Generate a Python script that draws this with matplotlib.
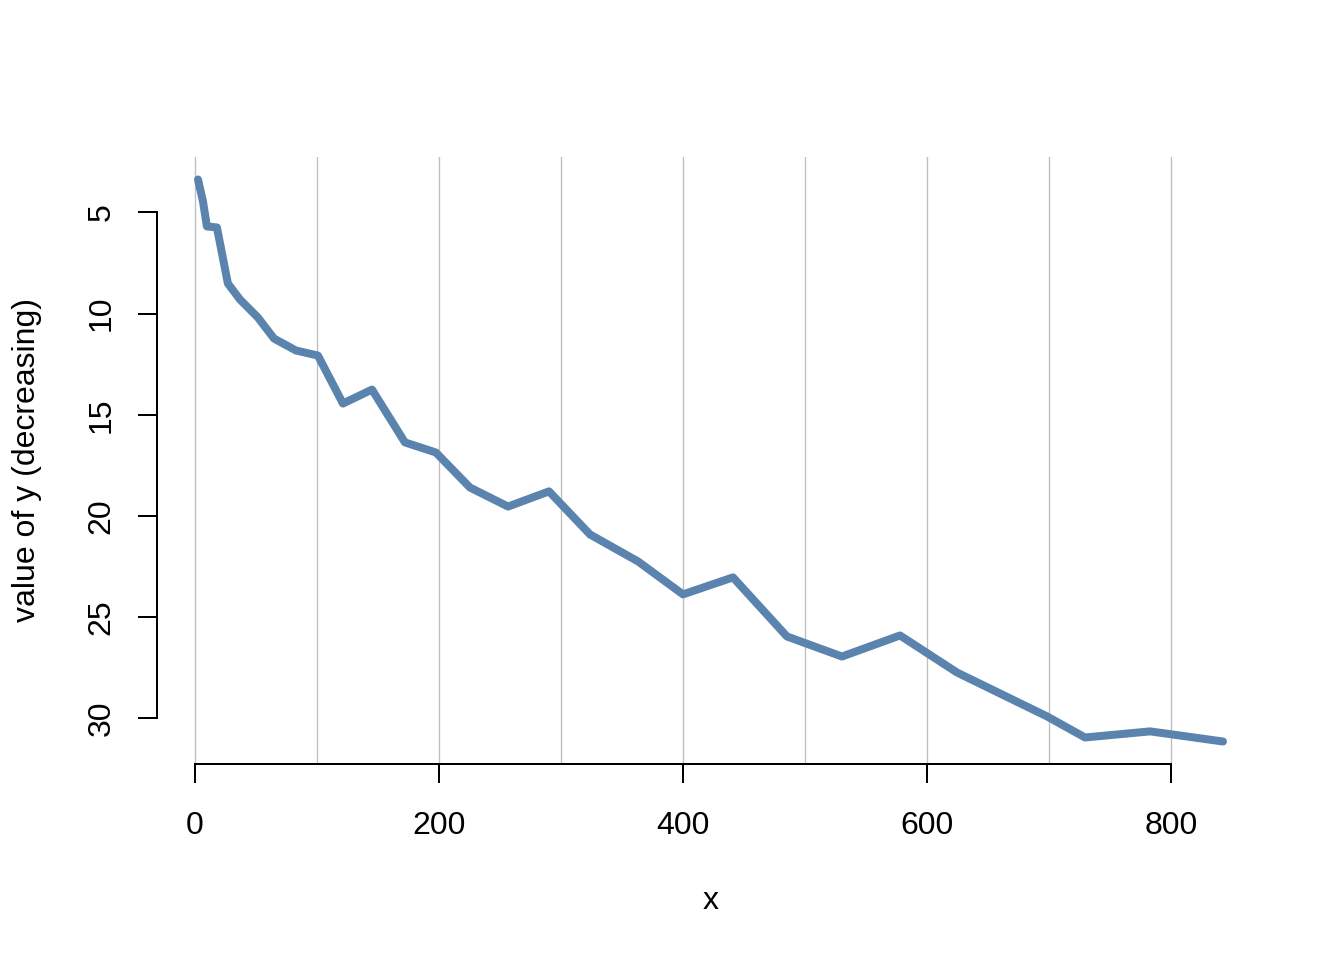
import numpy as np
import matplotlib.pyplot as plt

plt.rcParams['font.family'] = ['Liberation Sans', 'DejaVu Sans']

# values
x = [2.5, 6.6, 9.8, 18.0, 27.0, 36.9, 51.6, 64.8, 82.8, 100.8,
     121.3, 145.1, 172.1, 197.5, 225.4, 256.6, 290.2, 323.8, 363.1, 400.0,
     441.0, 485.2, 530.3, 577.9, 624.6, 698.4, 729.5, 782.8, 795.0, 842.6]
y = [3.37, 4.46, 5.69, 5.74, 8.51, 9.30, 10.19, 11.23, 11.82, 12.07,
     14.44, 13.75, 16.36, 16.86, 18.59, 19.53, 18.78, 20.91, 22.24, 23.87,
     23.03, 25.95, 26.94, 25.90, 27.73, 29.90, 30.94, 30.64, 30.74, 31.14]
xticks = [0, 200, 400, 600, 800]
yticks = [5, 10, 15, 20, 25, 30]
grid_x = np.arange(0, 801, 100)

fig = plt.figure(figsize=(7, 5), dpi=192)
ax = fig.add_axes([157/1344, 1 - 764/960, (1264-157)/1344, (764-157)/960])

# R style axis ranges (4% padding), y reversed
xr = max(x) - min(x)
yr = max(y) - min(y)
ax.set_xlim(min(x) - 0.04*xr, max(x) + 0.04*xr)
ax.set_ylim(max(y) + 0.04*yr, min(y) - 0.04*yr)

for g in grid_x:
    ax.axvline(g, color='#BEBEBE', lw=0.5, zorder=1)

ax.plot(x, y, color='#5A84AE', lw=3.0, solid_joinstyle='round',
        solid_capstyle='round', zorder=3)

for s in ['top', 'right']:
    ax.spines[s].set_visible(False)
ax.spines['left'].set_bounds(5, 30)
ax.spines['bottom'].set_bounds(0, 800)
ax.spines['left'].set_linewidth(0.75)
ax.spines['bottom'].set_linewidth(0.75)

ax.set_xticks(xticks)
ax.set_yticks(yticks)
ax.tick_params(axis='both', length=7.1, width=0.75, labelsize=12)
ax.tick_params(axis='x', pad=10.5)
ax.tick_params(axis='y', pad=8)
for lab in ax.get_yticklabels():
    lab.set_rotation(90)
    lab.set_va('center')

ax.set_xlabel('x', fontsize=12)
ax.set_ylabel('value of y (decreasing)', fontsize=12)
ax.xaxis.set_label_coords(0.5, -(901 - 764) / (764 - 157), transform=ax.transAxes)
ax.xaxis.label.set_va('center')
ax.yaxis.set_label_coords(-(157 - 27) / (1264 - 157), 0.5, transform=ax.transAxes)
ax.yaxis.label.set_va('center')

fig.savefig('out.png', dpi=192)
